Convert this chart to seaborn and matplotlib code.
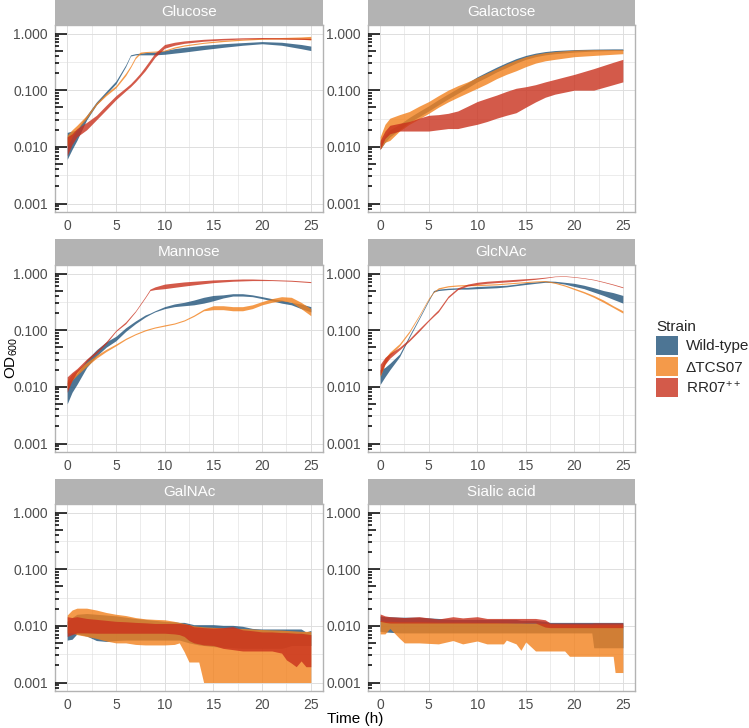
import matplotlib
matplotlib.use("Agg")
import numpy as np
import pandas as pd
import matplotlib.pyplot as plt
import seaborn as sns
from matplotlib.patches import Patch
from matplotlib.ticker import FixedLocator, NullFormatter

# ---------------- data ----------------
sugars = ["Glucose", "Galactose", "Mannose", "GlcNAc", "GalNAc", "Sialic acid"]
strains = ["Wild-type", "ΔTCS07", "RR07$^{++}$"]
colors = ["#20537A", "#F2811D", "#C9311D"]

glc_t = [0, 0.5, 1, 2, 3, 4, 5, 6, 6.5, 7, 7.5, 8, 9, 10, 11, 12, 14, 16, 18, 20, 22, 24, 25]
glc_wt_lo = [0.006, 0.009, 0.013, 0.030, 0.055, 0.085, 0.13, 0.26, 0.40, 0.42, 0.42, 0.42, 0.42, 0.43, 0.45, 0.47, 0.52, 0.57, 0.62, 0.66, 0.62, 0.54, 0.50]
glc_wt_hi = [0.018, 0.019, 0.020, 0.036, 0.062, 0.095, 0.145, 0.28, 0.42, 0.44, 0.45, 0.46, 0.47, 0.50, 0.54, 0.57, 0.62, 0.66, 0.69, 0.72, 0.70, 0.64, 0.60]
glc_ko_lo = [0.010, 0.015, 0.020, 0.032, 0.055, 0.080, 0.11, 0.18, 0.25, 0.36, 0.44, 0.46, 0.47, 0.49, 0.55, 0.60, 0.67, 0.72, 0.76, 0.79, 0.80, 0.79, 0.77]
glc_ko_hi = [0.016, 0.020, 0.024, 0.036, 0.060, 0.088, 0.12, 0.20, 0.27, 0.39, 0.47, 0.48, 0.49, 0.51, 0.58, 0.63, 0.70, 0.76, 0.80, 0.83, 0.85, 0.87, 0.89]
glc_rr_lo = [0.007, 0.011, 0.015, 0.020, 0.030, 0.045, 0.068, 0.097, 0.115, 0.14, 0.175, 0.22, 0.38, 0.55, 0.62, 0.67, 0.73, 0.77, 0.80, 0.81, 0.80, 0.79, 0.78]
glc_rr_hi = [0.015, 0.017, 0.021, 0.027, 0.036, 0.054, 0.080, 0.11, 0.13, 0.16, 0.20, 0.26, 0.45, 0.64, 0.70, 0.74, 0.79, 0.82, 0.84, 0.85, 0.84, 0.83, 0.82]

gal_t = [0, 0.5, 1, 2, 3, 4, 5, 6, 7, 8, 9, 10, 11, 12, 13, 14, 15, 16, 17, 18, 20, 22, 24, 25]
gal_wt_lo = [0.009, 0.012, 0.015, 0.020, 0.027, 0.034, 0.043, 0.055, 0.070, 0.088, 0.11, 0.14, 0.17, 0.21, 0.25, 0.30, 0.35, 0.39, 0.42, 0.44, 0.47, 0.49, 0.50, 0.50]
gal_wt_hi = [0.012, 0.016, 0.020, 0.025, 0.033, 0.042, 0.053, 0.068, 0.086, 0.108, 0.135, 0.172, 0.21, 0.255, 0.305, 0.36, 0.41, 0.45, 0.48, 0.50, 0.52, 0.53, 0.535, 0.535]
gal_ko_lo = [0.009, 0.012, 0.013, 0.019, 0.025, 0.031, 0.039, 0.050, 0.062, 0.075, 0.090, 0.108, 0.13, 0.16, 0.19, 0.22, 0.26, 0.30, 0.33, 0.35, 0.39, 0.41, 0.43, 0.44]
gal_ko_hi = [0.015, 0.025, 0.032, 0.037, 0.042, 0.052, 0.063, 0.080, 0.10, 0.12, 0.14, 0.168, 0.20, 0.24, 0.29, 0.34, 0.39, 0.43, 0.46, 0.48, 0.51, 0.52, 0.52, 0.52]
gal_rr_lo = [0.009, 0.014, 0.017, 0.019, 0.019, 0.019, 0.019, 0.020, 0.021, 0.021, 0.023, 0.025, 0.028, 0.032, 0.036, 0.040, 0.050, 0.062, 0.075, 0.085, 0.10, 0.10, 0.125, 0.14]
gal_rr_hi = [0.013, 0.019, 0.024, 0.026, 0.028, 0.032, 0.036, 0.037, 0.039, 0.043, 0.052, 0.063, 0.072, 0.082, 0.095, 0.108, 0.115, 0.125, 0.14, 0.155, 0.19, 0.24, 0.31, 0.35]

man_t = [0, 0.5, 1, 2, 3, 4, 5, 6, 7, 8, 8.5, 9, 10, 11, 12, 13, 14, 15, 16, 17, 18, 19, 20, 21, 22, 23, 24, 25]
man_wt_lo = [0.005, 0.008, 0.011, 0.022, 0.035, 0.050, 0.065, 0.095, 0.13, 0.17, 0.19, 0.21, 0.24, 0.26, 0.27, 0.28, 0.30, 0.33, 0.37, 0.40, 0.40, 0.39, 0.36, 0.33, 0.30, 0.28, 0.24, 0.21]
man_wt_hi = [0.012, 0.014, 0.017, 0.030, 0.045, 0.062, 0.078, 0.11, 0.145, 0.185, 0.20, 0.22, 0.26, 0.29, 0.31, 0.34, 0.38, 0.41, 0.42, 0.44, 0.44, 0.42, 0.39, 0.36, 0.34, 0.31, 0.29, 0.26]
man_ko_lo = [0.009, 0.013, 0.016, 0.023, 0.032, 0.042, 0.053, 0.068, 0.083, 0.097, 0.103, 0.109, 0.118, 0.128, 0.145, 0.175, 0.22, 0.23, 0.23, 0.22, 0.22, 0.24, 0.28, 0.31, 0.33, 0.31, 0.24, 0.18]
man_ko_hi = [0.013, 0.017, 0.020, 0.027, 0.036, 0.046, 0.057, 0.072, 0.087, 0.102, 0.108, 0.114, 0.124, 0.134, 0.152, 0.185, 0.235, 0.27, 0.27, 0.26, 0.26, 0.28, 0.32, 0.36, 0.39, 0.38, 0.31, 0.24]
man_rr_lo = [0.008, 0.013, 0.018, 0.028, 0.039, 0.058, 0.095, 0.13, 0.21, 0.37, 0.50, 0.52, 0.54, 0.57, 0.60, 0.63, 0.66, 0.69, 0.71, 0.73, 0.74, 0.75, 0.75, 0.75, 0.74, 0.73, 0.71, 0.69]
man_rr_hi = [0.015, 0.018, 0.021, 0.031, 0.043, 0.063, 0.10, 0.14, 0.22, 0.39, 0.53, 0.58, 0.65, 0.68, 0.71, 0.73, 0.75, 0.77, 0.78, 0.79, 0.80, 0.80, 0.79, 0.78, 0.77, 0.76, 0.74, 0.72]

glcn_t = [0, 0.5, 1, 2, 3, 4, 5, 5.5, 6, 7, 8, 9, 10, 11, 12, 13, 14, 15, 16, 17, 18, 19, 20, 21, 22, 23, 24, 25]
glcn_wt_lo = [0.011, 0.015, 0.020, 0.034, 0.074, 0.155, 0.33, 0.47, 0.50, 0.52, 0.53, 0.53, 0.54, 0.55, 0.56, 0.58, 0.61, 0.64, 0.67, 0.70, 0.69, 0.65, 0.59, 0.54, 0.47, 0.41, 0.35, 0.30]
glcn_wt_hi = [0.020, 0.022, 0.026, 0.038, 0.080, 0.165, 0.35, 0.50, 0.53, 0.55, 0.56, 0.57, 0.59, 0.60, 0.61, 0.62, 0.65, 0.69, 0.71, 0.74, 0.73, 0.70, 0.67, 0.62, 0.56, 0.50, 0.46, 0.41]
glcn_ko_lo = [0.015, 0.025, 0.036, 0.053, 0.090, 0.175, 0.35, 0.46, 0.53, 0.58, 0.60, 0.61, 0.61, 0.62, 0.63, 0.65, 0.67, 0.69, 0.71, 0.72, 0.67, 0.60, 0.52, 0.45, 0.38, 0.31, 0.25, 0.20]
glcn_ko_hi = [0.020, 0.032, 0.041, 0.058, 0.097, 0.185, 0.37, 0.48, 0.56, 0.61, 0.63, 0.64, 0.64, 0.65, 0.66, 0.68, 0.70, 0.72, 0.74, 0.75, 0.70, 0.63, 0.55, 0.48, 0.41, 0.34, 0.27, 0.22]
glcn_rr_lo = [0.016, 0.025, 0.032, 0.045, 0.064, 0.095, 0.145, 0.175, 0.21, 0.37, 0.52, 0.60, 0.64, 0.67, 0.69, 0.71, 0.73, 0.76, 0.79, 0.83, 0.88, 0.89, 0.86, 0.82, 0.77, 0.70, 0.63, 0.56]
glcn_rr_hi = [0.025, 0.033, 0.039, 0.050, 0.070, 0.105, 0.155, 0.19, 0.23, 0.40, 0.56, 0.65, 0.70, 0.73, 0.75, 0.77, 0.79, 0.81, 0.83, 0.86, 0.90, 0.91, 0.88, 0.84, 0.79, 0.72, 0.65, 0.58]

gn_t = [0, 0.5, 1, 2, 3, 4, 5, 6, 7, 8, 9, 10, 11, 11.5, 12, 12.5, 13, 13.5, 14, 15, 16, 17, 18, 19, 20, 21, 22, 22.5, 23, 23.5, 24, 24.5, 25]
gn_wt_lo = [0.0056, 0.0058, 0.0072, 0.0066, 0.0055, 0.0053, 0.0055, 0.0056, 0.0056, 0.0056, 0.0056, 0.0056, 0.0056, 0.0056, 0.0053, 0.005, 0.0048, 0.0046, 0.0045, 0.0043, 0.0042, 0.0041, 0.004, 0.004, 0.004, 0.004, 0.004, 0.0042, 0.0045, 0.0045, 0.0045, 0.0045, 0.0045]
gn_wt_hi = [0.012, 0.014, 0.016, 0.0165, 0.016, 0.0155, 0.015, 0.0142, 0.0135, 0.013, 0.0125, 0.012, 0.0118, 0.0115, 0.0115, 0.011, 0.0105, 0.0105, 0.0105, 0.0105, 0.0102, 0.0102, 0.0098, 0.009, 0.0088, 0.0088, 0.0088, 0.0088, 0.0088, 0.0088, 0.0088, 0.0078, 0.0083]
gn_ko_lo = [0.0075, 0.0075, 0.007, 0.0065, 0.006, 0.0054, 0.005, 0.005, 0.0047, 0.0046, 0.0046, 0.0046, 0.0047, 0.005, 0.0035, 0.0023, 0.0023, 0.0023, 0.001, 0.001, 0.001, 0.001, 0.001, 0.001, 0.001, 0.001, 0.001, 0.001, 0.001, 0.001, 0.001, 0.001, 0.001]
gn_ko_hi = [0.0155, 0.019, 0.0205, 0.0205, 0.019, 0.0172, 0.016, 0.0152, 0.014, 0.0133, 0.013, 0.0128, 0.012, 0.0115, 0.011, 0.0105, 0.010, 0.0098, 0.0096, 0.0094, 0.0092, 0.009, 0.009, 0.0088, 0.0086, 0.0085, 0.0084, 0.0083, 0.0082, 0.0081, 0.008, 0.008, 0.008]
gn_rr_lo = [0.0065, 0.007, 0.0075, 0.0075, 0.0074, 0.0074, 0.0074, 0.0074, 0.0074, 0.0074, 0.0074, 0.0074, 0.0072, 0.007, 0.0065, 0.0055, 0.005, 0.0048, 0.0046, 0.0045, 0.004, 0.0038, 0.0036, 0.0036, 0.0036, 0.0036, 0.0033, 0.0025, 0.0022, 0.0019, 0.0024, 0.0019, 0.0019]
gn_rr_hi = [0.0145, 0.014, 0.0145, 0.0135, 0.013, 0.0125, 0.012, 0.0118, 0.0115, 0.0113, 0.011, 0.011, 0.011, 0.011, 0.0108, 0.0105, 0.0096, 0.0095, 0.0093, 0.0091, 0.0093, 0.0097, 0.0085, 0.0082, 0.0078, 0.0078, 0.0076, 0.0076, 0.0075, 0.0074, 0.0074, 0.0072, 0.007]

sa_t = [0, 0.5, 1, 2, 2.5, 4, 6, 7.5, 8.5, 10, 11, 12.7, 13, 14, 14.5, 15, 16, 17, 17.5, 19, 19.5, 21.8, 22, 24, 24.2, 25]
sa_wt_lo = [0.008, 0.0078, 0.0077, 0.0075, 0.0075, 0.0075, 0.0075, 0.0075, 0.0075, 0.0075, 0.0075, 0.0075, 0.0075, 0.0075, 0.0075, 0.0075, 0.0075, 0.0075, 0.0075, 0.0075, 0.0075, 0.0075, 0.0041, 0.0041, 0.0041, 0.0041]
sa_wt_hi = [0.015, 0.0145, 0.0145, 0.0142, 0.0142, 0.0142, 0.0135, 0.013, 0.013, 0.013, 0.013, 0.013, 0.013, 0.013, 0.0125, 0.0125, 0.0125, 0.012, 0.0115, 0.0115, 0.0115, 0.0115, 0.0115, 0.0115, 0.0115, 0.0115]
sa_ko_lo = [0.0072, 0.0072, 0.009, 0.006, 0.005, 0.005, 0.0048, 0.0055, 0.0048, 0.0054, 0.0048, 0.0048, 0.0056, 0.0048, 0.0037, 0.0052, 0.0036, 0.0036, 0.0036, 0.0036, 0.0029, 0.0029, 0.0029, 0.0029, 0.0015, 0.0015]
sa_ko_hi = [0.0125, 0.012, 0.012, 0.0118, 0.0118, 0.0118, 0.0116, 0.0116, 0.0116, 0.0115, 0.0115, 0.0114, 0.0114, 0.0113, 0.0113, 0.0112, 0.0112, 0.011, 0.0108, 0.0106, 0.0106, 0.0105, 0.0105, 0.0105, 0.0105, 0.0105]
sa_rr_lo = [0.012, 0.0115, 0.0112, 0.0112, 0.0112, 0.0112, 0.0112, 0.0112, 0.0112, 0.0112, 0.0112, 0.0112, 0.0112, 0.0112, 0.0112, 0.0112, 0.0112, 0.0095, 0.0093, 0.0093, 0.0093, 0.0093, 0.0093, 0.0093, 0.0093, 0.0093]
sa_rr_hi = [0.0162, 0.015, 0.0145, 0.0142, 0.014, 0.0145, 0.0132, 0.0145, 0.0138, 0.0145, 0.0135, 0.0135, 0.0135, 0.0135, 0.0135, 0.0135, 0.0135, 0.0128, 0.0112, 0.0112, 0.0112, 0.0112, 0.0113, 0.0113, 0.0113, 0.0113]

y_ticks = [0.001, 0.01, 0.1, 1.0]
y_ticklabels = ["0.001", "0.010", "0.100", "1.000"]
x_ticks = [0, 5, 10, 15, 20, 25]

panels = {
    "Glucose": (glc_t, [(glc_wt_lo, glc_wt_hi), (glc_ko_lo, glc_ko_hi), (glc_rr_lo, glc_rr_hi)]),
    "Galactose": (gal_t, [(gal_wt_lo, gal_wt_hi), (gal_ko_lo, gal_ko_hi), (gal_rr_lo, gal_rr_hi)]),
    "Mannose": (man_t, [(man_wt_lo, man_wt_hi), (man_ko_lo, man_ko_hi), (man_rr_lo, man_rr_hi)]),
    "GlcNAc": (glcn_t, [(glcn_wt_lo, glcn_wt_hi), (glcn_ko_lo, glcn_ko_hi), (glcn_rr_lo, glcn_rr_hi)]),
    "GalNAc": (gn_t, [(gn_wt_lo, gn_wt_hi), (gn_ko_lo, gn_ko_hi), (gn_rr_lo, gn_rr_hi)]),
    "Sialic acid": (sa_t, [(sa_wt_lo, sa_wt_hi), (sa_ko_lo, sa_ko_hi), (sa_rr_lo, sa_rr_hi)]),
}

rows = []
for sugar, (tt, series) in panels.items():
    for strain, (lo, hi) in zip(strains, series):
        for t, a, b in zip(tt, lo, hi):
            rows.append((sugar, strain, t, a))
            rows.append((sugar, strain, t, b))
df = pd.DataFrame(rows, columns=["Sugar", "Strain", "Time", "OD"])

# ---------------- style ----------------
sns.set_theme(style="white")
plt.rcParams["font.family"] = ["Liberation Sans", "DejaVu Sans"]
plt.rcParams["mathtext.fontset"] = "custom"
plt.rcParams["mathtext.rm"] = "Liberation Sans"
plt.rcParams["mathtext.it"] = "Liberation Sans:italic"
plt.rcParams["mathtext.bf"] = "Liberation Sans:bold"

W, H = 749, 728
fig = plt.figure(figsize=(W / 100, H / 100), dpi=100)
fig.patch.set_facecolor("white")

col_x = [55, 368]
col_w = [268, 267]
row_y = [(25, 212), (265, 452), (504, 691)]
strip_top = [0, 239, 479]

grid_c = "#DEDEDE"
border_c = "#B3B3B3"
text_c = "#4D4D4D"
pal = dict(zip(strains, colors))

ylo, yhi = 10 ** -3.15, 10 ** 0.15

for i, sugar in enumerate(sugars):
    r, c = divmod(i, 2)
    top, bot = row_y[r]
    ax = fig.add_axes([col_x[c] / W, 1 - bot / H, col_w[c] / W, (bot - top) / H])
    ax.set_yscale("log")
    sub = df[df["Sugar"] == sugar]
    sns.lineplot(data=sub, x="Time", y="OD", hue="Strain", hue_order=strains,
                 palette=pal, estimator="mean",
                 errorbar=lambda v: (v.min(), v.max()),
                 lw=0, err_kws=dict(alpha=0.8, linewidth=0),
                 legend=False, ax=ax, zorder=3)
    ax.set_xlim(-1.25, 26.25)
    ax.set_ylim(ylo, yhi)
    ax.set_xlabel("")
    ax.set_ylabel("")
    ax.set_facecolor("white")

    ax.yaxis.set_major_locator(FixedLocator(y_ticks))
    ax.set_yticklabels(y_ticklabels)
    ax.yaxis.set_minor_locator(FixedLocator([10 ** -2.5, 10 ** -1.5, 10 ** -0.5]))
    ax.yaxis.set_minor_formatter(NullFormatter())
    ax.xaxis.set_major_locator(FixedLocator(x_ticks))
    ax.xaxis.set_minor_locator(FixedLocator([2.5, 7.5, 12.5, 17.5, 22.5]))
    ax.grid(True, which="major", color=grid_c, lw=0.7, zorder=0)
    ax.grid(True, which="minor", color=grid_c, lw=0.4, zorder=0)
    ax.set_axisbelow(True)
    ax.tick_params(which="major", length=3, width=0.6, color=border_c,
                   labelcolor=text_c, labelsize=10, pad=2)
    ax.tick_params(which="minor", length=0)
    for sp in ax.spines.values():
        sp.set_color(border_c)
        sp.set_linewidth(1.0)
        sp.set_zorder(5)

    # log ticks on left side (annotation_logticks style)
    ax_w_px = col_w[c]
    for d in range(-4, 1):
        for k in range(1, 10):
            v = k * 10.0 ** d
            if ylo <= v <= yhi:
                L = 11.8 if k == 1 else (7.9 if k == 5 else 3.9)
                ax.plot([0, L / ax_w_px], [v, v], transform=ax.get_yaxis_transform(),
                        color="black", lw=1.1, solid_capstyle="butt", zorder=6, clip_on=False)

    # strip
    st = strip_top[r]
    sax = fig.add_axes([col_x[c] / W, 1 - top / H, col_w[c] / W, (top - st) / H])
    sax.set_facecolor(border_c)
    sax.set_xticks([])
    sax.set_yticks([])
    for sp in sax.spines.values():
        sp.set_visible(False)
    sax.text(0.5, 0.5, sugar, color="white", ha="center", va="center",
             fontsize=11, transform=sax.transAxes)

fig.text(355 / W, 1 - 719 / H, "Time (h)", ha="center", va="center", fontsize=11, color="black")
fig.text(12 / W, 1 - 358 / H, "OD$_{600}$", ha="center", va="center", rotation=90,
         fontsize=11, color="black")

handles = [Patch(facecolor=col, alpha=0.8, edgecolor="none") for col in colors]
leg = fig.legend(handles, strains, title="Strain", loc="upper left",
                 bbox_to_anchor=(656 / W, 1 - 320 / H), frameon=False,
                 fontsize=11, title_fontsize=11, handlelength=1.45, handleheight=1.6,
                 labelspacing=0.1, handletextpad=0.5, borderaxespad=0, borderpad=0,
                 alignment="left")

fig.savefig("out.png", dpi=100, facecolor="white")
